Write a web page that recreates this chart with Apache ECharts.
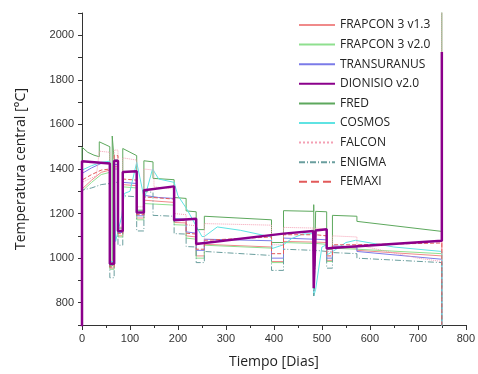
<!DOCTYPE html>
<html>
<head>
<meta charset="utf-8">
<script src="https://cdn.jsdelivr.net/npm/echarts@6/dist/echarts.min.js"></script>
<style>
  html, body { margin: 0; padding: 0; background: #fff; }
  #chart { width: 478px; height: 374px; }
</style>
</head>
<body>
<div id="chart"></div>
<script>
// nombres de los códigos (orden de la leyenda)
const names = ['FRAPCON 3 v1.3', 'FRAPCON 3 v2.0', 'TRANSURANUS', 'DIONISIO v2.0', 'FRED', 'COSMOS', 'FALCON', 'ENIGMA', 'FEMAXI']

// [dia, temperatura central]
const frapcon13 = [[0,600],[0,1310],[20,1350],[40,1385],[58,1395],[58,955],[67,955],[67,1410],[75,1410],[75,1100],[85,1100],[85,1330],[114,1325],[114,1180],[129,1180],[129,1260],[192,1250],[192,1160],[217,1158],[217,1100],[238,1095],[238,1010],[255,1010],[255,1062],[395,1050],[395,985],[420,985],[420,1075],[483,1072],[483,860],[487,1072],[510,1070],[510,990],[522,990],[522,1050],[573,1045],[573,1035],[750,1010],[750,1925]]
const frapcon20 = [[0,600],[0,1300],[20,1340],[40,1375],[58,1385],[58,950],[67,950],[67,1400],[75,1400],[75,1095],[85,1095],[85,1320],[114,1315],[114,1172],[129,1172],[129,1245],[192,1238],[192,1150],[217,1148],[217,1090],[238,1085],[238,1000],[255,1000],[255,1058],[395,1045],[395,980],[420,980],[420,1070],[483,1066],[483,855],[487,1066],[510,1062],[510,985],[522,985],[522,1045],[573,1040],[750,1020],[750,650]]
const transuranus = [[0,600],[0,1380],[20,1405],[40,1425],[58,1428],[58,970],[67,970],[67,1420],[75,1420],[75,1115],[85,1115],[85,1340],[114,1335],[114,1190],[129,1190],[129,1282],[160,1272],[192,1268],[192,1178],[217,1175],[217,1118],[238,1112],[238,1035],[255,1035],[255,1085],[395,1078],[395,1000],[420,1000],[420,1090],[483,1085],[483,850],[487,1085],[510,1082],[510,1000],[522,1000],[522,1055],[573,1050],[573,1030],[750,995],[750,650]]
const dionisio = [[0,600],[0,1435],[58,1425],[58,975],[67,975],[67,1437],[75,1437],[75,1122],[85,1122],[85,1387],[114,1390],[114,1205],[129,1205],[129,1305],[192,1322],[192,1170],[238,1177],[238,1063],[420,1110],[482,1122],[483,865],[486,865],[487,1124],[510,1130],[510,1043],[520,1045],[750,1078],[750,1925]]
const fred = [[0,600],[0,1498],[12,1475],[25,1462],[36,1455],[36,1522],[58,1500],[58,965],[63,965],[63,1548],[67,1548],[67,1440],[75,1440],[75,1135],[85,1135],[85,1492],[114,1460],[114,1215],[129,1215],[129,1437],[148,1432],[148,1358],[192,1352],[192,1272],[217,1268],[217,1212],[238,1208],[238,1128],[255,1128],[255,1188],[395,1172],[395,1070],[420,1070],[420,1213],[483,1210],[483,1240],[484,860],[487,1210],[510,1208],[510,1040],[522,1040],[522,1192],[573,1188],[573,1165],[750,1120],[750,2150]]
const cosmos = [[0,600],[0,1395],[20,1415],[40,1430],[58,1435],[58,985],[66,985],[66,1430],[70,1075],[83,1190],[88,1290],[100,1300],[114,1430],[130,1265],[147,1400],[160,1355],[192,1340],[200,1280],[218,1222],[250,1097],[255,1097],[282,1140],[330,1125],[395,1095],[396,1043],[420,1060],[437,1088],[460,1108],[482,1110],[483,830],[487,860],[500,1050],[510,1060],[511,1015],[530,1040],[550,1070],[570,1080],[650,1050],[750,1030],[750,650]]
const falcon = [[0,600],[0,1340],[30,1370],[36,1480],[58,1475],[58,990],[67,990],[67,1485],[75,1485],[75,1140],[85,1140],[85,1450],[114,1440],[114,1230],[129,1230],[129,1400],[150,1395],[150,1320],[192,1310],[192,1200],[217,1195],[217,1150],[238,1145],[238,1070],[255,1070],[255,1155],[395,1148],[395,1060],[420,1060],[420,1138],[483,1135],[483,880],[487,1135],[510,1130],[510,1030],[522,1030],[522,1100],[573,1095],[573,1060],[700,1000],[750,985],[750,2150]]
const enigma = [[0,600],[0,1305],[20,1315],[40,1330],[58,1335],[58,912],[67,912],[67,1340],[75,1340],[75,1058],[85,1058],[85,1280],[114,1275],[114,1122],[129,1122],[129,1300],[148,1295],[148,1192],[192,1188],[192,1110],[217,1108],[217,1052],[238,1050],[238,980],[255,980],[255,1030],[395,1012],[395,945],[420,945],[420,1040],[483,1035],[483,830],[487,1035],[510,1030],[510,955],[522,955],[522,1025],[573,1020],[573,1000],[750,980],[750,650]]
const femaxi = [[0,600],[0,1350],[20,1375],[40,1395],[58,1400],[58,960],[67,960],[67,1460],[75,1460],[75,1110],[85,1110],[85,1355],[114,1350],[114,1195],[129,1195],[129,1275],[192,1265],[192,1170],[217,1168],[217,1112],[238,1108],[238,1040],[255,1040],[255,1080],[395,1095],[395,1020],[420,1020],[420,1105],[483,1105],[483,870],[487,1105],[510,1100],[510,1010],[522,1010],[522,1060],[573,1060],[750,1068],[750,650]]

const chart = echarts.init(document.getElementById('chart'))

function serie(name, data, color, width, type, z) {
  return {
    name, type: 'line', data, showSymbol: false, symbol: 'none', z: z || 2,
    lineStyle: { color, width, type: type || 'solid' },
    itemStyle: { color }
  }
}

const axisText = { color: '#333', fontSize: 11, fontFamily: 'Liberation Sans, Arial' }

chart.setOption({
  animation: false,
  backgroundColor: '#fff',
  grid: { left: 82, right: 10, top: 13, bottom: 47 },
  legend: {
    data: names,
    orient: 'vertical',
    left: 293, top: 13,
    itemWidth: 36, itemHeight: 10, itemGap: 5.6,
    itemStyle: { opacity: 0 },
    textStyle: { fontSize: 12, color: '#222', fontFamily: 'Open Sans', lineHeight: 14 }
  },
  xAxis: {
    type: 'value', min: 0, max: 800, interval: 100,
    name: 'Tiempo [Dias]', nameLocation: 'middle', nameGap: 30,
    nameTextStyle: { fontSize: 14, color: '#222', fontFamily: 'Open Sans' },
    axisLine: { show: true, lineStyle: { color: '#333' } },
    axisTick: { show: true, length: 5, lineStyle: { color: '#333' } },
    minorTick: { show: true, splitNumber: 2, length: 3, lineStyle: { color: '#333' } },
    splitLine: { show: false },
    axisLabel: axisText
  },
  yAxis: {
    type: 'value', min: 700, max: 2100, interval: 100,
    name: 'Temperatura central [°C]', nameLocation: 'middle', nameGap: 54,
    nameTextStyle: { fontSize: 14, color: '#222', fontFamily: 'Open Sans' },
    axisLine: { show: true, lineStyle: { color: '#333' } },
    axisTick: { show: true, length: 4, lineStyle: { color: '#333' } },
    splitLine: { show: false },
    axisLabel: Object.assign({ interval: 0, formatter: v => (v % 200 === 0 ? v : '') }, axisText)
  },
  series: [
    serie(names[0], frapcon13, '#f08a8a', 1),
    serie(names[1], frapcon20, '#8fe08f', 1),
    serie(names[2], transuranus, '#7b7be8', 1),
    serie(names[4], fred, '#5da85d', 1),
    serie(names[5], cosmos, '#5fe3e3', 1),
    serie(names[6], falcon, '#f4a0b4', 1, 'dotted'),
    serie(names[7], enigma, '#6a9e9e', 1, [6, 2, 1, 2]),
    serie(names[8], femaxi, '#e25a5a', 1, 'dashed'),
    serie(names[3], dionisio, '#8b008b', 2.5, 'solid', 5)
  ]
})
</script>
</body>
</html>
